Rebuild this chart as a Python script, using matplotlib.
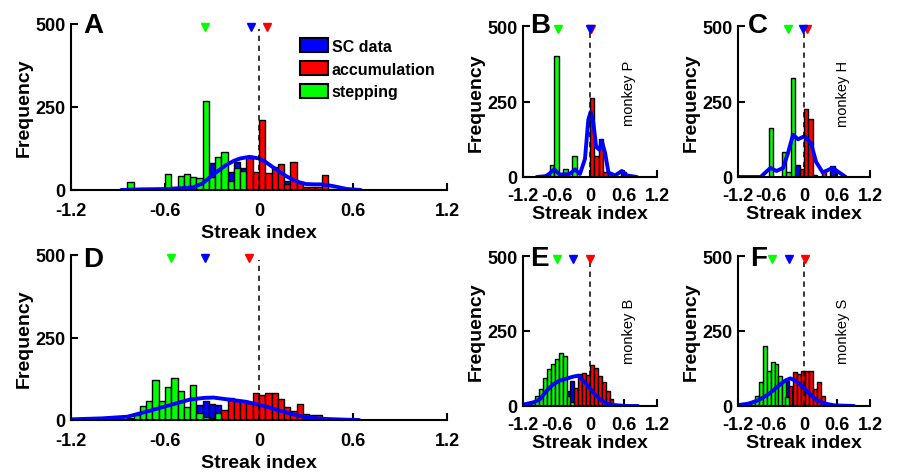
import matplotlib
matplotlib.use("Agg")
import matplotlib.pyplot as plt
from matplotlib.patches import Patch

plt.rcParams['font.family'] = ['Liberation Sans', 'DejaVu Sans']

# ---------------- data ----------------
# Panel A (bin width 0.04)
A_step_x = [-0.82, -0.70, -0.66, -0.58, -0.54, -0.50, -0.46, -0.42, -0.38, -0.34, -0.30, -0.26, -0.22, -0.18, -0.14, -0.10]
A_step_y = [25, 3, 3, 48, 10, 43, 48, 40, 35, 268, 40, 100, 115, 28, 65, 58]
A_acc_x = [-0.06, -0.02, 0.02, 0.06, 0.10, 0.14, 0.18, 0.22, 0.26, 0.30, 0.34, 0.38, 0.42, 0.46]
A_acc_y = [97, 55, 210, 50, 68, 77, 18, 83, 25, 10, 8, 8, 45, 4]
A_sc_x = [-0.30, -0.18, -0.14, -0.10, 0.18]
A_sc_y = [80, 55, 85, 65, 28]
A_line_x = [-0.88, -0.75, -0.57, -0.42, -0.36, -0.31, -0.26, -0.21, -0.16, -0.12, -0.06, 0.0, 0.04, 0.07, 0.13, 0.18, 0.22, 0.26, 0.30, 0.35, 0.39, 0.43, 0.47, 0.52, 0.56, 0.65]
A_line_y = [0, 2, 3, 8, 20, 40, 58, 75, 88, 95, 100, 95, 85, 75, 55, 40, 30, 23, 18, 17, 17, 15, 12, 7, 3, 0]

# Panel D (bin width 0.04)
D_step_x = [-0.82, -0.78, -0.74, -0.70, -0.66, -0.62, -0.58, -0.54, -0.50, -0.46, -0.42, -0.38, -0.34, -0.30, -0.26]
D_step_y = [5, 15, 43, 58, 120, 58, 101, 126, 88, 40, 105, 20, 10, 5, 20]
D_acc_x = [-0.26, -0.22, -0.18, -0.14, -0.10, -0.06, -0.02, 0.02, 0.06, 0.10, 0.14, 0.18, 0.22, 0.26, 0.30, 0.34, 0.38]
D_acc_y = [10, 30, 66, 61, 58, 51, 81, 77, 82, 82, 64, 38, 28, 47, 18, 16, 16]
D_sc_x = [-0.38, -0.34, -0.30, -0.26]
D_sc_y = [45, 58, 50, 45]
D_line_x = [-1.2, -1.0, -0.84, -0.72, -0.57, -0.44, -0.35, -0.29, -0.21, -0.08, 0.05, 0.18, 0.30, 0.43, 0.55, 0.64]
D_line_y = [2, 5, 10, 25, 45, 62, 67, 68, 63, 55, 40, 22, 8, 3, 1, 0]

# Panel B (bin width 0.08)
B_step_x = [-0.76, -0.68, -0.60, -0.44, -0.28]
B_step_y = [10, 40, 400, 26, 70]
B_acc_x = [0.04, 0.12, 0.20, 0.28, 0.36]
B_acc_y = [261, 70, 125, 15, 10]
B_sc_x = [0.60]
B_sc_y = [15]
B_line_x = [-0.955, -0.78, -0.64, -0.54, -0.36, -0.27, -0.18, -0.09, -0.03, 0.01, 0.06, 0.11, 0.17, 0.21, 0.27, 0.33, 0.45, 0.57, 0.66, 0.84]
B_line_y = [0, 3, 25, 8, 10, 25, 10, 60, 190, 215, 180, 100, 90, 120, 80, 15, 5, 20, 5, 0]

# Panel C (bin width 0.08)
C_step_x = [-0.60, -0.36, -0.28, -0.20]
C_step_y = [163, 84, 15, 329]
C_acc_x = [-0.04, 0.04, 0.12, 0.20, 0.36]
C_acc_y = [25, 224, 191, 8, 20]
C_sc_x = [-0.12, 0.52]
C_sc_y = [40, 36]
C_line_x = [-1.18, -0.79, -0.61, -0.50, -0.38, -0.29, -0.20, -0.11, 0.01, 0.13, 0.22, 0.34, 0.52, 0.64, 0.76]
C_line_y = [0, 0, 30, 20, 30, 80, 140, 125, 135, 110, 50, 15, 30, 15, 0]

# Panel E (bin width 0.07)
E_step_x = [-1.155, -1.085, -1.015, -0.945, -0.875, -0.805, -0.735, -0.665, -0.595, -0.525, -0.455, -0.385, -0.315]
E_step_y = [8, 12, 18, 34, 57, 92, 123, 140, 157, 177, 168, 35, 12]
E_acc_x = [-0.245, -0.175, -0.105, -0.035, 0.035, 0.105, 0.175, 0.245, 0.315, 0.385, 0.455, 0.525]
E_acc_y = [60, 108, 110, 105, 137, 126, 101, 79, 51, 23, 8, 5]
E_sc_x = [-0.385, -0.315]
E_sc_y = [50, 85]
E_line_x = [-1.19, -1.01, -0.90, -0.78, -0.66, -0.54, -0.39, -0.30, -0.21, -0.12, -0.03, 0.06, 0.18, 0.30, 0.42, 0.66, 0.86]
E_line_y = [5, 12, 22, 50, 72, 85, 93, 98, 101, 85, 65, 45, 22, 8, 3, 0, 0]

# Panel F (bin width 0.07)
F_step_x = [-1.00, -0.93, -0.855, -0.78, -0.71, -0.64, -0.57, -0.50, -0.435, -0.37, -0.31]
F_step_y = [12, 18, 34, 79, 199, 118, 148, 140, 101, 84, 30]
F_acc_x = [-0.245, -0.17, -0.095, -0.02, 0.055, 0.13, 0.205, 0.28, 0.345, 0.41]
F_acc_y = [68, 112, 107, 118, 118, 118, 57, 79, 34, 7]
F_sc_x = [-0.31]
F_sc_y = [85]
F_line_x = [-1.2, -1.0, -0.82, -0.64, -0.46, -0.34, -0.25, -0.16, -0.04, 0.08, 0.23, 0.38, 0.56, 0.91]
F_line_y = [3, 8, 20, 40, 68, 85, 92, 85, 67, 45, 20, 8, 2, 0]

# triangle markers: stepping, SC, accumulation means
markers = {
    'A': [-0.345, -0.05, 0.05],
    'B': [-0.57, 0.0, 0.01],
    'C': [-0.30, -0.02, 0.05],
    'D': [-0.56, -0.345, -0.065],
    'E': [-0.59, -0.30, 0.0],
    'F': [-0.59, -0.27, 0.02],
}
monkeys = {'B': 'monkey P', 'C': 'monkey H', 'E': 'monkey B', 'F': 'monkey S'}
monkey_y = {'B': 280, 'C': 278, 'E': 253, 'F': 253}

xticks = [-1.2, -0.6, 0, 0.6, 1.2]
xticklabels = ['-1.2', '-0.6', '0', '0.6', '1.2']
yticks = [0, 250, 500]
yticklabels = ['0', '250', '500']

GREEN = '#00ff00'
RED = '#ff0000'
BLUE = '#0000ff'

W, H = 899, 477
fig = plt.figure(figsize=(W / 100, H / 100), dpi=100)

def rect(l, r, b, t):
    return [l / W, (H - b) / H, (r - l) / W, (b - t) / H]

panels = {
    'A': dict(pos=rect(71, 447, 191, 25), bw=0.04, step=(A_step_x, A_step_y), acc=(A_acc_x, A_acc_y), sc=(A_sc_x, A_sc_y), line=(A_line_x, A_line_y)),
    'D': dict(pos=rect(71, 447, 421, 256), bw=0.04, step=(D_step_x, D_step_y), acc=(D_acc_x, D_acc_y), sc=(D_sc_x, D_sc_y), line=(D_line_x, D_line_y)),
    'B': dict(pos=rect(523, 657, 178, 27), bw=0.08, step=(B_step_x, B_step_y), acc=(B_acc_x, B_acc_y), sc=(B_sc_x, B_sc_y), line=(B_line_x, B_line_y)),
    'C': dict(pos=rect(738, 870, 178, 27), bw=0.08, step=(C_step_x, C_step_y), acc=(C_acc_x, C_acc_y), sc=(C_sc_x, C_sc_y), line=(C_line_x, C_line_y)),
    'E': dict(pos=rect(523, 657, 407, 257), bw=0.07, step=(E_step_x, E_step_y), acc=(E_acc_x, E_acc_y), sc=(E_sc_x, E_sc_y), line=(E_line_x, E_line_y)),
    'F': dict(pos=rect(738, 870, 407, 257), bw=0.07, step=(F_step_x, F_step_y), acc=(F_acc_x, F_acc_y), sc=(F_sc_x, F_sc_y), line=(F_line_x, F_line_y)),
}

letter_pos = {'A': (83, 33), 'B': (530, 33), 'C': (748, 33), 'D': (83, 267), 'E': (530, 266), 'F': (750, 266)}

for name, p in panels.items():
    ax = fig.add_axes(p['pos'])
    big = name in ('A', 'D')
    bw = p['bw']
    ax.bar(p['sc'][0], p['sc'][1], width=bw, color=BLUE, edgecolor='black', linewidth=1.0, zorder=2)
    ax.bar(p['acc'][0], p['acc'][1], width=bw, color=RED, edgecolor='black', linewidth=1.0, zorder=3)
    ax.bar(p['step'][0], p['step'][1], width=bw, color=GREEN, edgecolor='black', linewidth=1.0, zorder=4)
    ax.plot(p['line'][0], p['line'][1], color=BLUE, linewidth=2.8, zorder=5, solid_capstyle='round')
    ax.plot([0, 0], [0, 485], color='black', linestyle=(0, (3.5, 3)), linewidth=1.1, zorder=6)
    g, b, r = markers[name]
    ax.plot([g], [490], marker='v', color=GREEN, markersize=6, linestyle='none', zorder=7, clip_on=False)
    ax.plot([r], [490], marker='v', color=RED, markersize=6, linestyle='none', zorder=7, clip_on=False)
    ax.plot([b], [490], marker='v', color=BLUE, markersize=6, linestyle='none', zorder=8, clip_on=False)

    ax.set_xlim(-1.2, 1.2)
    ax.set_ylim(0, 500)
    ax.set_xticks(xticks)
    ax.set_xticklabels(xticklabels)
    ax.set_yticks(yticks)
    ax.set_yticklabels(yticklabels)
    for s in ['top', 'right']:
        ax.spines[s].set_visible(False)
    for s in ['left', 'bottom']:
        ax.spines[s].set_linewidth(1.5)
        ax.spines[s].set_zorder(10)
    ax.tick_params(direction='in', length=5, width=1.5, labelsize=13)
    ax.tick_params(axis='y', pad=4)
    ax.tick_params(axis='x', pad=9 if big else 7)
    for lab in ax.get_xticklabels() + ax.get_yticklabels():
        lab.set_fontweight('bold')
    ax.set_xlabel('Streak index', fontsize=14, fontweight='bold', labelpad=3 if big else 1)
    ax.set_ylabel('Frequency', fontsize=14, fontweight='bold', labelpad=2)
    ax.patch.set_visible(False)

    if name in monkeys:
        ax.text(0.70, monkey_y[name], monkeys[name], rotation=90, ha='center', va='center', fontsize=10.5)

    if name == 'A':
        handles = [Patch(facecolor=BLUE, edgecolor='black', linewidth=1.5, label='SC data'),
                   Patch(facecolor=RED, edgecolor='black', linewidth=1.5, label='accumulation'),
                   Patch(facecolor=GREEN, edgecolor='black', linewidth=1.5, label='stepping')]
        ax.legend(handles=handles, loc='upper left', bbox_to_anchor=(0.609, 0.915), frameon=False,
                  borderpad=0, borderaxespad=0, handlelength=1.75, handleheight=1.0,
                  handletextpad=0.25, labelspacing=0.45,
                  prop={'size': 11.5, 'weight': 'bold'})

    lx, ly = letter_pos[name]
    fig.text(lx / W, 1 - ly / H, name, fontsize=20, fontweight='bold', va='baseline', ha='left')

fig.savefig('out.png', dpi=100)
